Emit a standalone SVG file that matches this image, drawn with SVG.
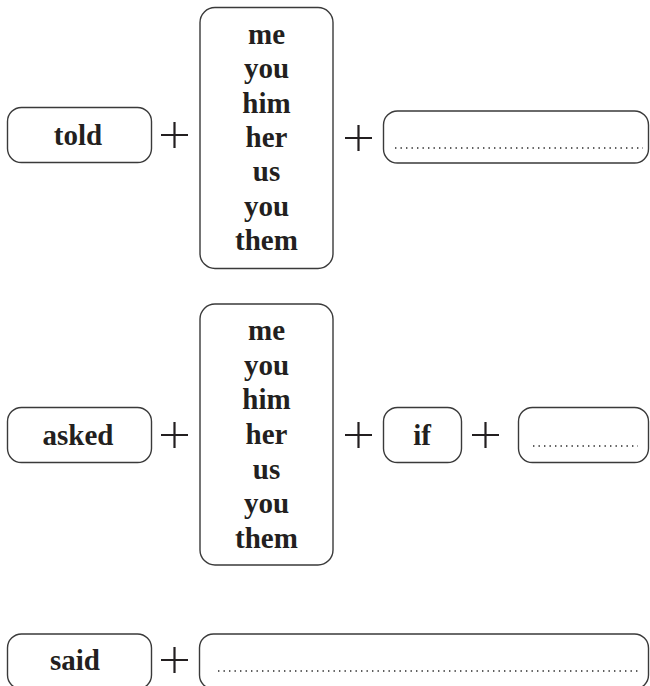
<svg xmlns="http://www.w3.org/2000/svg" width="650" height="686" viewBox="0 0 650 686">
<style>
.box{fill:#fff;stroke:#3a3a3a;stroke-width:1.4}
.t{font-family:"Liberation Serif","Times New Roman",serif;font-weight:bold;font-size:29px;fill:#231f20;text-anchor:middle}
.plus{stroke:#231f20;stroke-width:2.2;fill:none}
.dots{stroke:#2a2a2a;stroke-width:1.5;stroke-dasharray:1.4 4.1;fill:none}
</style>
<rect width="650" height="686" fill="#fff"/>
<g id="row1">
  <g id="told"><rect class="box" x="7.5" y="107.5" width="144" height="55" rx="14"/><text class="t" x="78" y="145">told</text></g>
  <g id="pron1"><rect class="box" x="200" y="7.5" width="133" height="261" rx="15"/>
    <text class="t" x="266.5" y="44">me</text><text class="t" x="266.5" y="78">you</text><text class="t" x="266.5" y="113">him</text><text class="t" x="266.5" y="147">her</text><text class="t" x="266.5" y="181">us</text><text class="t" x="266.5" y="216">you</text><text class="t" x="266.5" y="250">them</text></g>
  <g id="blank1"><rect class="box" x="383.5" y="111" width="265" height="52" rx="14"/><line class="dots" x1="395" y1="148" x2="643" y2="148"/></g>
</g>
<g id="row2">
  <g id="asked"><rect class="box" x="7.5" y="407.5" width="144" height="55" rx="14"/><text class="t" x="78" y="445">asked</text></g>
  <g id="pron2"><rect class="box" x="200" y="304" width="133" height="261" rx="15"/>
    <text class="t" x="266.5" y="340">me</text><text class="t" x="266.5" y="375">you</text><text class="t" x="266.5" y="409">him</text><text class="t" x="266.5" y="444">her</text><text class="t" x="266.5" y="479">us</text><text class="t" x="266.5" y="513">you</text><text class="t" x="266.5" y="548">them</text></g>
  <g id="if"><rect class="box" x="383.5" y="407.5" width="78" height="55" rx="14"/><text class="t" x="422" y="445">if</text></g>
  <g id="blank2"><rect class="box" x="518.5" y="407.5" width="130" height="55" rx="14"/><line class="dots" x1="533" y1="446" x2="638" y2="446"/></g>
</g>
<g id="row3">
  <g id="said"><rect class="box" x="7.5" y="634" width="144" height="55" rx="14"/><text class="t" x="75" y="670">said</text></g>
  <g id="blank3"><rect class="box" x="199.5" y="634" width="449" height="55" rx="14"/><line class="dots" x1="218" y1="671" x2="638" y2="671"/></g>
</g>
<g id="connectors">
  <path class="plus" d="M161 135h27M174.5 122v26"/>
  <path class="plus" d="M345 138h27M358.5 125v26"/>
  <path class="plus" d="M161 435h27M174.5 422v26"/>
  <path class="plus" d="M345 435h27M358.5 422v26"/>
  <path class="plus" d="M472 435h27M485.5 422v26"/>
  <path class="plus" d="M161 660h27M174.5 647v26"/>
</g>
</svg>
